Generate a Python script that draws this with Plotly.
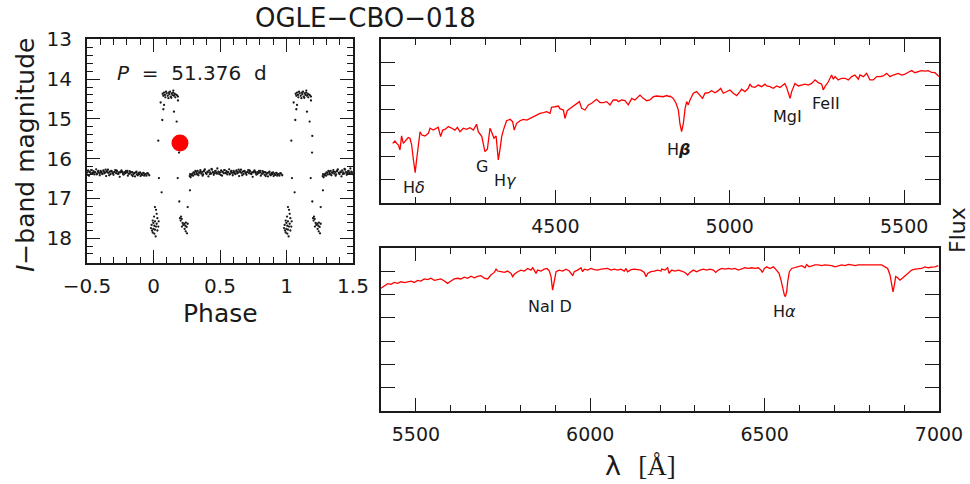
import plotly.graph_objects as go

FONT = "DejaVu Sans ExtraLight, DejaVu Sans"
INK = "#1a1a1a"
RED = "#ff0000"

# ---------------- OGLE I-band light curve (single cycle) ----------------
phase_quiet = [
    0.272, 0.279, 0.284, 0.292, 0.298, 0.305, 0.311, 0.319, 0.325, 0.332,
    0.338, 0.346, 0.352, 0.359, 0.366, 0.373, 0.378, 0.386, 0.393, 0.399,
    0.406, 0.413, 0.419, 0.427, 0.433, 0.440, 0.447, 0.453, 0.461, 0.467,
    0.474, 0.480, 0.488, 0.494, 0.502, 0.508, 0.515, 0.521, 0.529, 0.535,
    0.542, 0.549, 0.555, 0.562, 0.569, 0.576, 0.582, 0.590, 0.596, 0.603,
    0.610, 0.617, 0.623, 0.631, 0.637, 0.644, 0.650, 0.658, 0.664, 0.671,
    0.678, 0.685, 0.691, 0.699, 0.705, 0.712, 0.719, 0.725, 0.733, 0.739,
    0.746, 0.753, 0.759, 0.767, 0.773, 0.780, 0.787, 0.793, 0.801, 0.807,
    0.814, 0.821, 0.827, 0.835, 0.841, 0.848, 0.855, 0.861, 0.869, 0.875,
    0.882, 0.889, 0.895, 0.903, 0.909, 0.916, 0.923, 0.930, 0.942, 0.953,
    0.275, 0.288, 0.301, 0.315, 0.328, 0.342, 0.355, 0.369, 0.382, 0.396,
    0.409, 0.423, 0.436, 0.450, 0.464, 0.477, 0.491, 0.505, 0.518, 0.532,
    0.545, 0.559, 0.572, 0.586, 0.599, 0.613, 0.627, 0.640, 0.654, 0.667,
    0.681, 0.695, 0.708, 0.722, 0.736, 0.749, 0.763, 0.776, 0.790, 0.804,
    0.817, 0.831, 0.844, 0.858, 0.872, 0.885, 0.899, 0.912, 0.926, 0.936,
    0.947, 0.960, 0.968,
]
mag_quiet = [
    16.44, 16.47, 16.41, 16.38, 16.43, 16.36, 16.40, 16.33, 16.37, 16.31,
    16.42, 16.35, 16.29, 16.38, 16.34, 16.40, 16.32, 16.27, 16.36, 16.39,
    16.33, 16.45, 16.30, 16.35, 16.38, 16.28, 16.34, 16.41, 16.37, 16.31,
    16.36, 16.25, 16.33, 16.39, 16.35, 16.30, 16.43, 16.34, 16.37, 16.29,
    16.36, 16.32, 16.40, 16.35, 16.27, 16.38, 16.33, 16.36, 16.42, 16.31,
    16.34, 16.39, 16.30, 16.37, 16.35, 16.44, 16.32, 16.28, 16.36, 16.33,
    16.39, 16.31, 16.35, 16.41, 16.34, 16.29, 16.37, 16.32, 16.38, 16.35,
    16.46, 16.33, 16.30, 16.36, 16.40, 16.34, 16.37, 16.31, 16.35, 16.43,
    16.38, 16.32, 16.36, 16.41, 16.34, 16.39, 16.37, 16.45, 16.35, 16.40,
    16.42, 16.36, 16.39, 16.44, 16.38, 16.41, 16.36, 16.43, 16.39, 16.37,
    16.39, 16.42, 16.35, 16.31, 16.40, 16.36, 16.33, 16.43, 16.30, 16.37,
    16.34, 16.39, 16.26, 16.36, 16.32, 16.38, 16.35, 16.41, 16.33, 16.29,
    16.37, 16.34, 16.40, 16.31, 16.36, 16.38, 16.33, 16.28, 16.35, 16.42,
    16.32, 16.37, 16.34, 16.30, 16.39, 16.35, 16.33, 16.40, 16.36, 16.31,
    16.38, 16.34, 16.44, 16.36, 16.33, 16.39, 16.35, 16.41, 16.37, 16.40,
    16.43, 16.38, 16.42,
]
phase_active = [
    # first faint group
    0.011, 0.019, 0.024, 0.004, 0.029, -0.006, 0.011, -0.001, 0.024, -0.014,
    0.006, 0.019, -0.019, -0.001, 0.011, 0.029, -0.006, 0.006, 0.016, 0.036,
    0.039, -0.011,
    # rise
    0.036, 0.041, 0.061, 0.066, 0.074, 0.054, 0.079,
    # bright plateau
    0.069, 0.079, 0.086, 0.094, 0.099, 0.107, 0.114, 0.119, 0.124, 0.129,
    0.137, 0.142, 0.147, 0.154, 0.159, 0.164, 0.169, 0.177, 0.184, 0.089,
    0.112, 0.074, 0.149, 0.134,
    # decline
    0.184, 0.154, 0.174, 0.194, 0.192, 0.182, 0.194, 0.257, 0.274,
    # second faint group
    0.199, 0.204, 0.212, 0.219, 0.224, 0.214, 0.232, 0.239, 0.244, 0.249,
    0.234, 0.242, 0.252, 0.257, 0.207,
]
mag_active = [
    17.22, 17.29, 17.39, 17.46, 17.50, 17.56, 17.58, 17.62, 17.64, 17.67,
    17.69, 17.71, 17.75, 17.77, 17.79, 17.81, 17.86, 17.89, 17.96, 17.71,
    17.58, 17.81,
    15.55, 16.49, 16.85, 15.03, 14.76, 14.59, 14.65,
    14.37, 14.34, 14.40, 14.32, 14.36, 14.42, 14.34, 14.38, 14.32, 14.44,
    14.36, 14.40, 14.34, 14.42, 14.37, 14.46, 14.39, 14.41, 14.44, 14.46,
    14.48, 14.42, 14.29, 14.47,
    14.54, 14.82, 15.07, 15.43, 15.85, 16.49, 17.08, 17.22, 16.80,
    17.50, 17.56, 17.52, 17.62, 17.67, 17.71, 17.64, 17.69, 17.61, 17.72,
    17.77, 17.83, 17.88, 17.64, 17.46,
]
# epoch of the spectrum
spec_phase = [0.199]
spec_mag = [15.61]

# ---------------- spectrum, blue part ----------------
wave_blue = [
    4033.5, 4040, 4045, 4050, 4054.5, 4059, 4064, 4072, 4078, 4083,
    4088, 4093, 4098, 4102, 4107, 4112, 4117, 4126, 4136, 4140.5,
    4150, 4160, 4164, 4171, 4177, 4183.5, 4193, 4203, 4212, 4219,
    4226.5, 4236, 4245.6, 4255, 4265, 4274, 4279, 4289, 4298, 4305,
    4312.5, 4317, 4324, 4330, 4336.4, 4341, 4346, 4351, 4360, 4370,
    4377.5, 4382, 4389, 4398.6, 4408, 4418, 4427, 4437, 4446, 4456,
    4465.5, 4475, 4484.6, 4489, 4499, 4508.5, 4513, 4523, 4527.6, 4534,
    4542, 4551.5, 4561, 4569, 4575.5, 4585, 4594.5, 4604, 4618, 4628,
    4637.5, 4647, 4656.6, 4666, 4676, 4680.5, 4690, 4699.6, 4709, 4719,
    4728, 4742.6, 4752, 4762, 4771, 4781, 4790, 4800, 4809.6, 4819,
    4827, 4829, 4838, 4846, 4852.6, 4857, 4862, 4867, 4872, 4876.5,
    4881, 4886, 4895.6, 4905, 4914.7, 4922, 4929, 4938.6, 4948, 4957.7,
    4967, 4974, 4981.6, 4991, 5000.7, 5010, 5020, 5029, 5034, 5043.7,
    5053, 5058, 5063, 5072, 5082, 5091.5, 5101, 5106, 5115, 5125,
    5134.5, 5144, 5158, 5163, 5168, 5173, 5177.5, 5182, 5187, 5196.7,
    5206, 5216, 5225, 5235, 5244.5, 5254, 5263.6, 5268, 5273, 5282.7,
    5292, 5297, 5302, 5311, 5321, 5330.5, 5340, 5349.6, 5359, 5368.7,
    5373.5, 5383, 5392.6, 5402, 5411.7, 5421, 5431, 5440, 5450, 5459.5,
    5469, 5483, 5493, 5502.5, 5512, 5521.6, 5531, 5540.7, 5550, 5560,
    5569, 5579, 5588.5, 5600,
]
flux_blue = [
    2.54, 2.64, 2.54, 2.47, 2.26, 2.86, 2.54, 2.69, 2.79, 2.76,
    2.47, 1.83, 1.29, 1.83, 2.54, 3.04, 2.90, 2.86, 2.97, 3.19,
    3.11, 3.19, 3.23, 2.83, 3.11, 3.14, 3.26, 3.19, 3.11, 3.23,
    3.04, 3.19, 3.14, 3.21, 3.11, 3.36, 3.04, 2.83, 2.19, 2.29,
    3.19, 3.04, 2.76, 2.86, 1.83, 2.26, 2.83, 3.11, 3.51, 3.57,
    3.47, 3.11, 3.40, 3.51, 3.57, 3.54, 3.61, 3.66, 3.76, 3.83,
    3.86, 3.90, 3.83, 4.09, 4.11, 4.14, 4.03, 3.97, 3.61, 3.94,
    4.04, 4.14, 4.23, 4.33, 4.04, 3.97, 4.19, 4.26, 4.43, 4.29,
    4.29, 4.33, 4.19, 4.40, 4.40, 4.33, 4.40, 4.37, 4.19, 4.47,
    4.40, 4.61, 4.47, 4.37, 4.40, 4.54, 4.57, 4.57, 4.54, 4.59,
    4.54, 4.57, 4.47, 4.26, 3.97, 3.40, 3.04, 3.40, 4.04, 4.33,
    4.19, 4.40, 4.69, 4.76, 4.61, 4.47, 4.69, 4.71, 4.80, 4.71,
    4.80, 4.90, 4.69, 4.76, 4.83, 4.69, 4.59, 4.76, 4.86, 4.76,
    4.90, 5.08, 4.97, 4.94, 5.04, 4.97, 5.08, 5.00, 4.97, 4.90,
    5.00, 4.94, 5.11, 4.94, 4.69, 4.47, 4.76, 4.94, 5.11, 5.00,
    5.04, 5.08, 5.04, 5.11, 5.26, 5.14, 5.08, 4.83, 4.97, 5.18,
    5.47, 5.29, 5.40, 5.26, 5.33, 5.33, 5.26, 5.40, 5.47, 5.29,
    5.47, 5.40, 5.54, 5.26, 5.26, 5.40, 5.40, 5.43, 5.54, 5.40,
    5.47, 5.54, 5.47, 5.51, 5.59, 5.66, 5.57, 5.61, 5.66, 5.64,
    5.66, 5.58, 5.57, 5.40,
]

# ---------------- spectrum, red part ----------------
wave_red = [
    5400, 5409.6, 5419, 5428.7, 5438, 5448, 5457, 5467, 5476.5, 5486,
    5495.6, 5505, 5514.7, 5524, 5534, 5543, 5553, 5562.5, 5572, 5581.6,
    5591, 5600.7, 5610, 5620, 5629, 5639, 5648.5, 5658, 5667.6, 5677,
    5686.7, 5696, 5706, 5715, 5725, 5730, 5734.5, 5744, 5753.6, 5763,
    5772.8, 5777.5, 5782, 5792, 5801, 5811, 5820.6, 5830, 5835, 5839.7,
    5844.5, 5849, 5858.8, 5868, 5876, 5882.7, 5887.5, 5892, 5897, 5902,
    5911, 5921, 5930.5, 5935, 5940, 5949.6, 5954, 5964, 5968.7, 5973.5,
    5978, 5983, 5992.6, 6002, 6011.7, 6021, 6031, 6040, 6050, 6059.5,
    6069, 6078.6, 6088, 6097.7, 6102.5, 6107, 6117, 6126, 6136, 6145.5,
    6155, 6160, 6164.6, 6174, 6183.8, 6193, 6203, 6204.8, 6214.4, 6222,
    6225.8, 6233.5, 6243, 6252.6, 6262, 6271.7, 6279.4, 6286, 6295.6, 6305,
    6314.7, 6324.3, 6333.8, 6343.4, 6353, 6359.7, 6367.3, 6376.9, 6386.4, 6396,
    6405.5, 6415, 6424.7, 6434.2, 6443.8, 6453.3, 6462.9, 6472.4, 6482, 6489.6,
    6493.5, 6499.2, 6505.9, 6515.4, 6525, 6529.8, 6534.6, 6541.3, 6547, 6551.8,
    6556.6, 6559.4, 6563.2, 6566.1, 6570.9, 6577.6, 6587.1, 6596.7, 6606.2, 6615.8,
    6620.6, 6627.3, 6634.9, 6644.5, 6654, 6663.6, 6673.2, 6682.7, 6692.3, 6701.8,
    6711.4, 6720.9, 6730.5, 6740, 6749.6, 6759.2, 6768.7, 6778.3, 6787.8, 6797.4,
    6806.9, 6816.5, 6826.1, 6835.6, 6845.2, 6852.8, 6859.5, 6864.3, 6868.1, 6872,
    6875.8, 6881.5, 6888.2, 6894.9, 6902.6, 6912.1, 6921.7, 6931.2, 6940.8, 6950.3,
    6959.9, 6969.5, 6979, 6988.6, 6998,
]
flux_red = [
    5.26, 5.37, 5.46, 5.43, 5.51, 5.47, 5.54, 5.50, 5.54, 5.57,
    5.51, 5.60, 5.57, 5.66, 5.63, 5.69, 5.60, 5.63, 5.66, 5.57,
    5.47, 5.57, 5.66, 5.69, 5.66, 5.74, 5.69, 5.78, 5.71, 5.77,
    5.80, 5.69, 5.66, 5.83, 5.94, 6.08, 6.00, 5.97, 5.94, 6.00,
    5.90, 5.76, 5.86, 5.97, 6.04, 6.00, 6.11, 6.04, 6.14, 6.03,
    5.90, 6.04, 6.00, 6.08, 6.11, 6.00, 5.76, 5.18, 5.54, 5.97,
    6.04, 6.00, 6.08, 6.04, 6.00, 5.80, 5.97, 6.04, 6.11, 6.14,
    5.97, 6.08, 6.04, 6.11, 6.06, 6.04, 6.08, 6.08, 6.11, 6.04,
    6.08, 6.04, 6.08, 6.00, 6.11, 5.97, 6.06, 6.08, 6.06, 6.04,
    5.94, 5.76, 5.90, 5.97, 6.00, 6.04, 6.00, 6.08, 6.04, 6.14,
    5.90, 6.04, 6.00, 6.04, 6.00, 5.94, 5.83, 5.94, 6.04, 5.97,
    6.04, 6.08, 6.04, 6.08, 6.04, 5.94, 6.04, 6.11, 6.08, 6.11,
    6.08, 6.11, 6.04, 6.08, 6.14, 6.11, 6.14, 6.11, 6.14, 6.04,
    5.94, 6.11, 6.18, 6.11, 6.18, 6.11, 6.04, 5.90, 5.61, 5.26,
    4.97, 4.90, 5.11, 5.54, 5.97, 6.11, 6.14, 6.18, 6.23, 6.14,
    6.28, 6.18, 6.23, 6.26, 6.26, 6.23, 6.26, 6.26, 6.23, 6.18,
    6.23, 6.26, 6.23, 6.28, 6.26, 6.23, 6.26, 6.26, 6.28, 6.26,
    6.26, 6.26, 6.28, 6.26, 6.18, 6.11, 5.83, 5.40, 5.11, 5.40,
    5.76, 5.71, 5.61, 5.69, 5.80, 5.94, 6.04, 6.08, 6.11, 6.11,
    6.18, 6.14, 6.17, 6.18, 6.23,
]

# spectral features: label, wavelength position, flux position, panel
line_ids = [
    ("H<i>δ</i>", 4094, 0.67, 2),
    ("G", 4290, 1.57, 2),
    ("H<i>γ</i>", 4356, 0.97, 2),
    ("H<i><b>β</b></i>", 4852, 2.26, 2),
    ("MgI", 5167, 3.71, 2),
    ("FeII", 5276, 4.23, 2),
    ("NaI D", 5885, 4.46, 3),
    ("H<i>α</i>", 6558, 4.28, 3),
]


def unfold(ph, mg, lo=-0.5, hi=1.5):
    """Repeat a single-cycle light curve over the plotted phase window."""
    xs, ys = [], []
    for p, m in zip(ph, mg):
        for k in (-1, 0, 1):
            q = p + k
            if lo <= q <= hi:
                xs.append(q)
                ys.append(m)
    return xs, ys


W, H = 970, 484


def px_x(a, b):
    return [a / W, b / W]


def px_y(top, bottom):
    return [1 - bottom / H, 1 - top / H]


fig = go.Figure()

for ph, mg in ((phase_quiet, mag_quiet), (phase_active, mag_active)):
    xs, ys = unfold(ph, mg)
    fig.add_trace(go.Scatter(
        x=xs, y=ys, mode="markers", xaxis="x", yaxis="y",
        marker=dict(size=2.3, color=INK, line=dict(width=0)),
        hoverinfo="skip"))

fig.add_trace(go.Scatter(
    x=spec_phase, y=spec_mag, mode="markers", xaxis="x", yaxis="y",
    marker=dict(size=17, color=RED, line=dict(width=0))))

fig.add_trace(go.Scatter(
    x=wave_blue, y=flux_blue, mode="lines", xaxis="x2", yaxis="y2",
    line=dict(color=RED, width=1.3)))
fig.add_trace(go.Scatter(
    x=wave_red, y=flux_red, mode="lines", xaxis="x3", yaxis="y3",
    line=dict(color=RED, width=1.3)))

frame = dict(showline=True, linecolor=INK, linewidth=2, mirror="ticks",
             ticks="inside", tickcolor=INK, tickwidth=1.3, showgrid=False,
             zeroline=False, fixedrange=True, automargin=False)

minor_x = dict(ticks="inside", ticklen=6, tickcolor=INK, tickwidth=1.3)

lc_dom_x = px_x(87, 353)
lc_dom_y = px_y(39.3, 262.7)
sp_dom_x = px_x(381, 939)
sp1_dom_y = px_y(39.3, 202.7)
sp2_dom_y = px_y(247.7, 411)

fig.update_layout(
    template="none",
    width=W, height=H, margin=dict(l=0, r=0, t=0, b=0, pad=0),
    paper_bgcolor="white", plot_bgcolor="white", showlegend=False,
    font=dict(family=FONT, color=INK),
    xaxis=dict(frame, domain=lc_dom_x, anchor="y", range=[-0.5, 1.5],
               tickvals=[-0.5, 0, 0.5, 1, 1.5], ticklen=13,
               minor=dict(minor_x, dtick=0.1, tick0=0),
               tickfont=dict(size=20), ticklabelstandoff=4),
    yaxis=dict(frame, domain=lc_dom_y, anchor="x", range=[18.62, 13],
               tickvals=[13, 14, 15, 16, 17, 18], ticklen=13,
               minor=dict(minor_x, dtick=0.2, tick0=13),
               tickfont=dict(size=20), ticklabelstandoff=9),
    xaxis2=dict(frame, domain=sp_dom_x, anchor="y2", range=[4000, 5600],
                tickvals=[4500, 5000, 5500], ticklen=13,
                minor=dict(minor_x, dtick=100, tick0=4000),
                tickfont=dict(size=19), ticklabelstandoff=5),
    yaxis2=dict(frame, domain=sp1_dom_y, anchor="x2", range=[0, 7],
                tickvals=[1, 2, 3, 4, 5, 6], ticklen=14,
                showticklabels=False),
    xaxis3=dict(frame, domain=sp_dom_x, anchor="y3", range=[5400, 7000],
                tickvals=[5500, 6000, 6500, 7000], ticklen=13,
                minor=dict(minor_x, dtick=100, tick0=5400),
                tickfont=dict(size=19), ticklabelstandoff=5),
    yaxis3=dict(frame, domain=sp2_dom_y, anchor="x3", range=[0, 7],
                tickvals=[1, 2, 3, 4, 5, 6], ticklen=14,
                showticklabels=False),
)

annots = [
    dict(text="OGLE−CBO−018", x=365 / W, y=1 - 18 / H, font=dict(size=26)),
    dict(text="<i>P</i>\u00a0\u00a0=\u00a0\u00a051.376\u00a0\u00a0d",
         x=192 / W, y=1 - 73 / H, font=dict(size=20)),
    dict(text="Phase", x=220 / W, y=1 - 313 / H, font=dict(size=25)),
    dict(text="<i>I</i>−band magnitude", x=25 / W, y=1 - 155 / H,
         textangle=-90, font=dict(size=25)),
    dict(text="Flux", x=957 / W, y=1 - 230 / H, textangle=-90,
         font=dict(size=22)),
    dict(text="λ\u00a0\u00a0<span style='font-family:Liberation Serif'>[Å]</span>",
         x=640 / W, y=1 - 465 / H, font=dict(size=27)),
]
for a in annots:
    a.update(xref="paper", yref="paper", showarrow=False,
             xanchor="center", yanchor="middle")
    fig.add_annotation(**a)

for label, wl, fl, panel in line_ids:
    fig.add_annotation(text=label, x=wl, y=fl, xref=f"x{panel}",
                       yref=f"y{panel}", showarrow=False,
                       xanchor="center", yanchor="middle",
                       font=dict(size=16))

fig.write_html("out.html")
